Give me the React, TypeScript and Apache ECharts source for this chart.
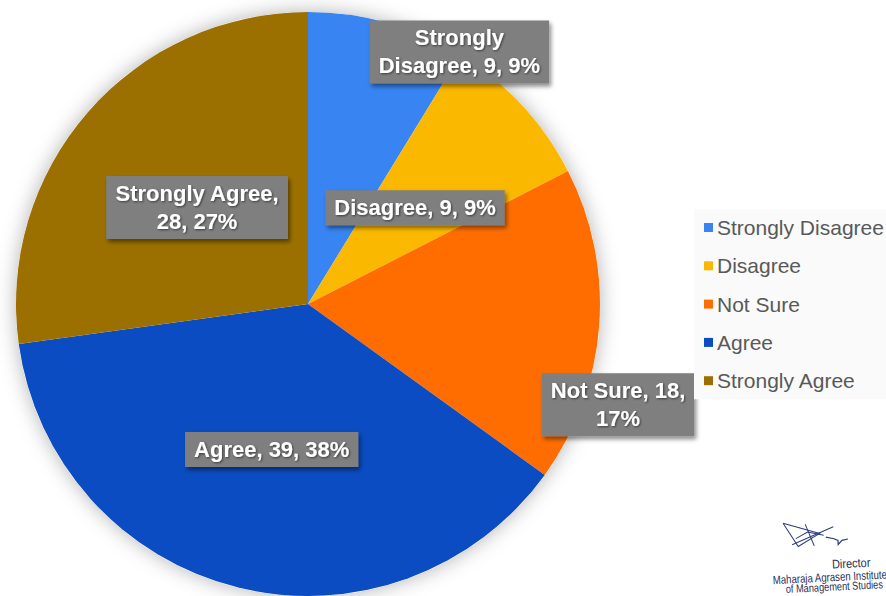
import React, { useEffect, useRef } from "react";
import * as echarts from "echarts";

const categories = ["Strongly Disagree", "Disagree", "Not Sure", "Agree", "Strongly Agree"];
const values = [9, 9, 18, 39, 28];
const colors = ["#3784f2", "#fbb800", "#ff6d00", "#0b4cc2", "#9c7000"];
// words kept on first label line (Excel-like wrapping)
const wrapAfter = [1, 0, 3, 0, 2];
// label placement in polar terms: [radius px, angle deg clockwise from top]
const labelPolar = [
  [294, 31],
  [144, 48],
  [326, 108],
  [150, 194],
  [147, 311],
];

const CX = 308;
const CY = 304;
const R = 292;

export default function App() {
  const ref = useRef<HTMLDivElement>(null);
  useEffect(() => {
    document.body.style.margin = "0";
    const chart = echarts.init(ref.current!, null, { renderer: "svg" });
    const font = "'Liberation Sans', Arial, sans-serif";
    const sigFont = "'Liberation Sans', Arial, sans-serif";
    const ink = "#2a2f55";
    const pen = { stroke: "#2d3b7c", lineWidth: 1, fill: null };
    chart.setOption({
      animation: false,
      backgroundColor: "#ffffff",
      legend: {
        orient: "vertical",
        left: 694,
        top: 209,
        padding: [8, 6, 8, 10],
        backgroundColor: "#fafafa",
        data: categories,
        icon: "rect",
        itemWidth: 9,
        itemHeight: 9,
        itemGap: 17.3,
        selectedMode: false,
        textStyle: { fontSize: 21, color: "#595959", fontFamily: font, lineHeight: 20, padding: [0, 0, 0, -1] },
      },
      graphic: [
        {
          type: "group",
          x: 828,
          y: 541,
          rotation: 0.05,
          children: [
            { type: "polyline", shape: { points: [[-44, -20], [-30, 4], [-8, -8], [-44, -20]] }, style: pen },
            { type: "polyline", shape: { points: [[-36, 2], [6, -14]] }, style: pen },
            { type: "polyline", shape: { points: [[-22, -18], [-14, 4]] }, style: pen },
            { type: "polyline", shape: { points: [[-32, -4], [-20, -10], [-4, -6]] }, style: pen },
            { type: "polyline", shape: { points: [[-2, -4], [6, -2], [10, 0], [10, 4], [14, 0], [20, -1]] }, style: { ...pen, lineWidth: 1.2 } },
            { type: "text", x: 22, y: 23, scaleX: 0.88, style: { text: "Director", fontSize: 12.5, fill: ink, fontFamily: sigFont, align: "center", verticalAlign: "middle" } },
            { type: "text", x: 0, y: 36, scaleX: 0.8, style: { text: "Maharaja Agrasen Institute", fontSize: 12, fill: ink, fontFamily: sigFont, align: "center", verticalAlign: "middle" } },
            { type: "text", x: 4, y: 46, scaleX: 0.8, style: { text: "of Management Studies", fontSize: 11.5, fill: ink, fontFamily: sigFont, align: "center", verticalAlign: "middle" } },
          ],
        },
      ],
      series: [
        {
          type: "pie",
          silent: true,
          center: [CX, CY],
          radius: R,
          z: 1,
          label: { show: false },
          labelLine: { show: false },
          emphasis: { disabled: true },
          itemStyle: { color: "#ffffff", shadowBlur: 20, shadowColor: "rgba(0,0,0,0.3)" },
          data: [{ value: 1, name: "" }],
        },
        {
          type: "pie",
          center: [CX, CY],
          radius: R,
          z: 2,
          startAngle: 90,
          clockwise: true,
          percentPrecision: 0,
          avoidLabelOverlap: false,
          emphasis: { disabled: true },
          itemStyle: { borderWidth: 0 },
          data: categories.map((name, i) => ({ name, value: values[i], itemStyle: { color: colors[i] } })),
          label: {
            show: true,
            position: "inside",
            formatter: (p: any) => {
              const words = `${p.name}, ${p.value}, ${p.percent}%`.split(" ");
              const n = wrapAfter[p.dataIndex];
              return n > 0 ? words.slice(0, n).join(" ") + "\n" + words.slice(n).join(" ") : words.join(" ");
            },
            color: "#ffffff",
            fontFamily: font,
            fontWeight: "bold",
            fontSize: 22,
            lineHeight: 28,
            align: "center",
            verticalAlign: "middle",
            backgroundColor: "#7f7f7f",
            padding: [4, 9, 3, 9],
            shadowBlur: 4,
            shadowColor: "rgba(0,0,0,0.45)",
            shadowOffsetX: 2,
            shadowOffsetY: 3,
            textShadowColor: "rgba(0,0,0,0.55)",
            textShadowBlur: 2,
            textShadowOffsetX: 1,
            textShadowOffsetY: 1,
          },
          labelLine: { show: false },
          labelLayout: (p: any) => {
            const [r, a] = labelPolar[p.dataIndex];
            const rad = (a * Math.PI) / 180;
            return { x: CX + r * Math.sin(rad), y: CY - r * Math.cos(rad), align: "center", verticalAlign: "middle" };
          },
        },
      ],
    });
    return () => chart.dispose();
  }, []);
  return <div ref={ref} style={{ position: "fixed", left: 0, top: 0, width: 886, height: 596 }} />;
}
